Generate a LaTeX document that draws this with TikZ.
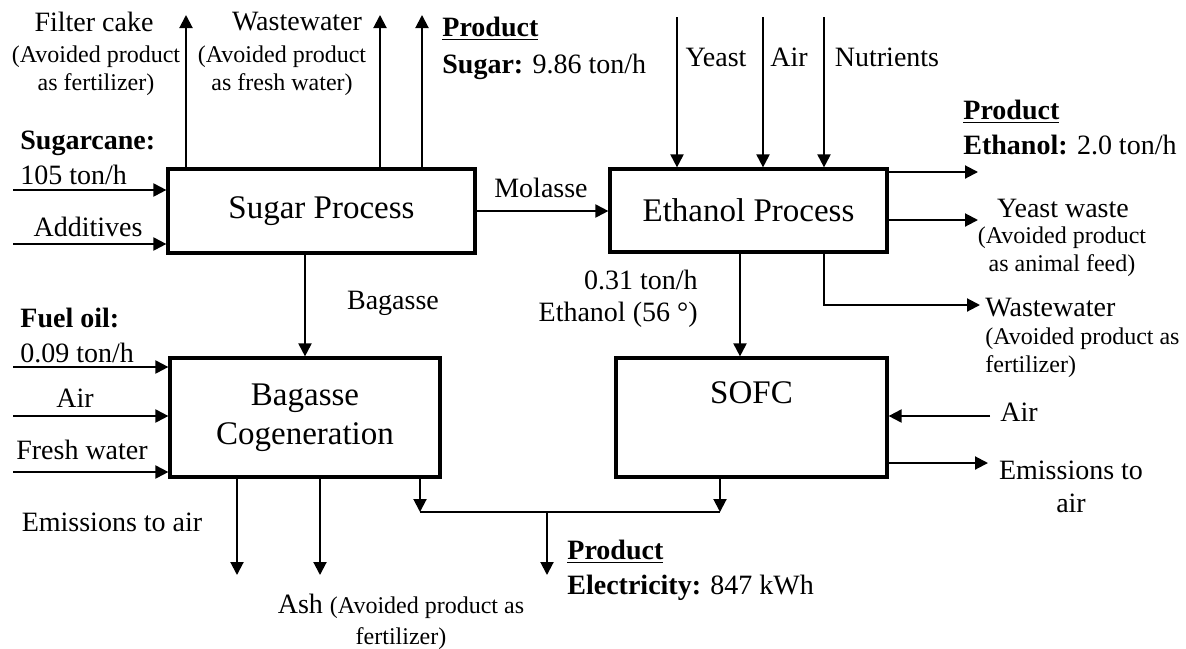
\documentclass[tikz,border=0pt]{standalone}
\usepackage{fontspec}
\setmainfont{Liberation Serif}
\usetikzlibrary{arrows.meta,positioning,calc}
\newcommand{\notefont}{\fontsize{12}{14}\selectfont}
\tikzset{
  procbox/.style={
    draw, line width=1.6pt, align=center, inner sep=0pt,
    font=\fontsize{16.5}{19.5}\selectfont
  },
  lab/.style={font=\fontsize{14}{17.5}\selectfont, inner sep=0pt},
  note/.style={font=\notefont, inner sep=0pt},
  arr/.style={-{Triangle[length=6.5pt,width=6.5pt]}, line width=1pt},
  bus/.style={line width=1pt}
}

\begin{document}
\begin{tikzpicture}[x=0.5pt,y=-0.5pt]
\useasboundingbox (0,0) rectangle (1186,648);

% process blocks
\node[procbox, minimum width=153.5pt, minimum height=42pt] (sugar) at (321.5,211) {Sugar Process};
\node[procbox, minimum width=138.5pt, minimum height=41.5pt] (ethanol) at (748.5,210.5) {Ethanol Process};
\node[procbox, minimum width=135pt, minimum height=59.5pt] (cogen) at (305,417.5) {Bagasse\\Cogeneration};
\node[procbox, minimum width=135.5pt, minimum height=59.5pt] (sofc) at (751.5,417.5) {};
\node[procbox, draw=none] (sofclab) at (751.5,393) {SOFC};

% free ends
\coordinate (cakeEnd) at (186,15);
\coordinate (wwEnd) at (380,15);
\coordinate (sugEnd) at (422,15);
\coordinate (caneIn) at (13,190);
\coordinate (addIn) at (13,244);
\coordinate (yeastIn) at (677,17);
\coordinate (airTopIn) at (763,17);
\coordinate (nutriIn) at (824,17);
\coordinate (ethOut) at (978,172);
\coordinate (ywOut) at (978,220);
\coordinate (wwTurn) at (824,305);
\coordinate (wwOut) at (980,305);
\coordinate (etX) at (740,300);
\coordinate (fuelIn) at (13,367);
\coordinate (airIn) at (13,416);
\coordinate (fwIn) at (13,472);
\coordinate (sofcAirIn) at (990,416);
\coordinate (sofcEmis) at (988,463);
\coordinate (emisEnd) at (237,575);
\coordinate (ashEnd) at (320,575);
\coordinate (busL) at (420,512);
\coordinate (busR) at (720,512);
\coordinate (elecEnd) at (547,575);

% sugar process
\draw[arr] (sugar.north -| cakeEnd) -- (cakeEnd);
\draw[arr] (sugar.north -| wwEnd) -- (wwEnd);
\draw[arr] (sugar.north -| sugEnd) -- (sugEnd);
\draw[arr] (caneIn) -- (caneIn -| sugar.west);
\draw[arr] (addIn) -- (addIn -| sugar.west);
\draw[arr] (sugar.east) -- (sugar.east -| ethanol.west);
\draw[arr] (cogen.north |- sugar.south) -- (cogen.north);

% ethanol process
\draw[arr] (yeastIn) -- (yeastIn |- ethanol.north);
\draw[arr] (airTopIn) -- (airTopIn |- ethanol.north);
\draw[arr] (nutriIn) -- (nutriIn |- ethanol.north);
\draw[arr] (ethOut -| ethanol.east) -- (ethOut);
\draw[arr] (ywOut -| ethanol.east) -- (ywOut);
\draw[arr] (wwTurn |- ethanol.south) -- (wwTurn) -- (wwOut);
\draw[arr] (etX |- ethanol.south) -- (etX |- sofc.north);

% cogeneration and SOFC
\draw[arr] (fuelIn) -- (fuelIn -| cogen.west);
\draw[arr] (airIn) -- (airIn -| cogen.west);
\draw[arr] (fwIn) -- (fwIn -| cogen.west);
\draw[arr] (sofcAirIn) -- (sofcAirIn -| sofc.east);
\draw[arr] (sofcEmis -| sofc.east) -- (sofcEmis);
\draw[arr] (cogen.south -| emisEnd) -- (emisEnd);
\draw[arr] (cogen.south -| ashEnd) -- (ashEnd);
\draw[arr] (cogen.south -| busL) -- (busL);
\draw[arr] (sofc.south -| busR) -- (busR);
\draw[bus] (busL) -- (busR);
\draw[arr] (elecEnd |- busL) -- (elecEnd);

% labels
\node[lab] (cakelab) at (94,22) {Filter cake};
\node[note, align=center] (cakenote) at (96,71) {(Avoided product\\as fertilizer)};
\node[lab] (wwlab) at (297,22) {Wastewater};
\node[note, align=center] (wwnote) at (282,71) {(Avoided product\\as fresh water)};
\node[lab, anchor=west, align=left, font=\fontsize{14}{18.5}\selectfont] (sugprod) at (442,48) {\underline{\textbf{Product}}\\\textbf{Sugar:} 9.86 ton/h};
\node[lab, anchor=west, align=left] (canelab) at (20,158) {\textbf{Sugarcane:}\\105 ton/h};
\node[lab] (addlab) at (88,227) {Additives};
\node[lab] (mollab) at (541,188) {Molasse};
\node[lab] (yeastlab) at (716,57) {Yeast};
\node[lab] (airtoplab) at (789,57) {Air};
\node[lab] (nutrilab) at (887,57) {Nutrients};
\node[lab, anchor=west, align=left] (ethprod) at (963,127) {\underline{\textbf{Product}}\\\textbf{Ethanol:} 2.0 ton/h};
\node[lab] (ywlab) at (1063,208) {Yeast waste};
\node[note, align=center] (ywnote) at (1062,252) {(Avoided product\\as animal feed)};
\node[lab, anchor=west] (ww2lab) at (985,308) {Wastewater};
\node[note, anchor=west, align=left] (ww2note) at (985,353) {(Avoided product as\\fertilizer)};
\node[lab] (baglab) at (393,303) {Bagasse};
\node[lab, anchor=east, align=right, font=\fontsize{14}{16}\selectfont] (etlab) at (698,299) {0.31 ton/h\\Ethanol (56 °)};
\node[lab, anchor=west, align=left] (fuellab) at (20,335) {\textbf{Fuel oil:}\\0.09 ton/h};
\node[lab] (airlab) at (75,398) {Air};
\node[lab] (fwlab) at (82,450) {Fresh water};
\node[lab] (sofcairlab) at (1019,412) {Air};
\node[lab, align=center, font=\fontsize{14}{16.5}\selectfont] (emis2lab) at (1071,487) {Emissions to\\air};
\node[lab] (emis1lab) at (112,522) {Emissions to air};
\node[lab, align=center, font=\fontsize{14}{15.5}\selectfont] (ashlab) at (401,622) {Ash {\notefont (Avoided product as}\\{\notefont fertilizer)}};
\node[lab, anchor=west, align=left] (elecprod) at (567,570) {\underline{\textbf{Product}}\\\textbf{Electricity:} 847 kWh};
\end{tikzpicture}
\end{document}
